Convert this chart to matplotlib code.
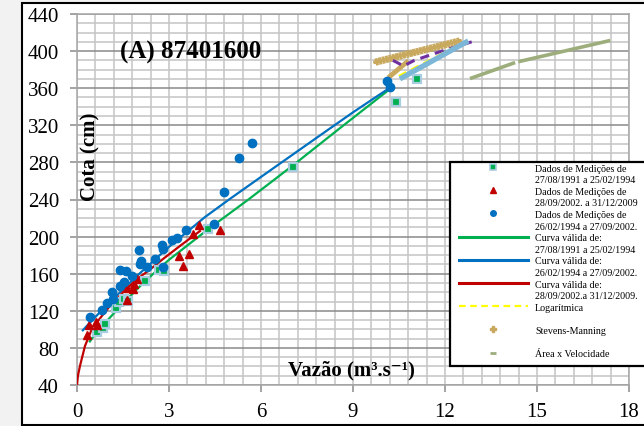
import matplotlib
matplotlib.use("Agg")
import matplotlib.pyplot as plt
import matplotlib.patheffects as pe
import numpy as np
from matplotlib.lines import Line2D
from matplotlib.patches import Rectangle
from matplotlib.ticker import MultipleLocator

plt.rcParams["font.family"] = ["Liberation Serif", "DejaVu Serif"]

# measured points (Q in m3/s, h in cm)
q_1991 = [0.64, 0.86, 0.92, 1.27, 1.37, 1.53, 1.67, 2.22, 2.68, 2.85, 4.28, 7.04, 10.4, 11.1]
h_1991 = [97, 101, 106, 123, 129, 133, 131, 152, 164, 163, 208, 275, 345, 370]

q_2002 = [0.34, 0.40, 0.62, 0.65, 1.64, 1.64, 1.83, 1.86, 1.97, 3.33, 3.47, 3.65, 3.79, 3.98, 4.66]
h_2002 = [94, 105, 108, 105, 132, 145, 144, 149, 154, 179, 168, 181, 203, 212, 207]

q_1994 = [0.44, 0.80, 0.97, 1.15, 1.18, 1.40, 1.40, 1.53, 1.61, 1.78, 2.03, 2.05, 2.09, 2.27,
          2.54, 2.78, 2.82, 2.82, 3.09, 3.25, 3.57, 4.48, 4.79, 5.28, 5.70, 10.1, 10.2]
h_1994 = [113, 121, 128, 140, 133, 164, 147, 151, 163, 157, 186, 170, 174, 167,
          176, 191, 187, 167, 196, 199, 207, 214, 248, 285, 301, 368, 361]

# rating curves
curve_1991_q = [0.42, 0.65, 1.0, 1.5, 2.22, 3.0, 4.28, 5.59, 7.05, 8.5, 10.2]
curve_1991_h = [87, 98, 110, 128, 152, 175, 208, 240, 277, 315, 359]

curve_1994_q = [0.19, 0.5, 1.0, 1.5, 2.0, 3.0, 4.17, 5.0, 6.5, 7.92, 9.0, 10.18]
curve_1994_h = [99, 110, 127, 143, 159, 189, 221, 241, 276, 309, 334, 360]

curve_2002_q = [0.0, 0.03, 0.1, 0.26, 0.48, 0.8, 1.08, 1.5, 1.95, 2.4, 2.81, 3.4, 4.01]
curve_2002_h = [40, 50, 61, 82, 100, 114, 125.5, 140, 154, 165, 176, 191, 206]

# extrapolation methods
ext_q = [10.53, 12.76]
ext_h = [370, 411]
log_q = [10.5, 11.5, 12.6]
log_h = [373, 390, 409]
purple_q = [10.3, 10.65, 11.0, 11.9, 12.87]
purple_h = [390, 384, 390, 400, 410]
stevens_q = [9.72, 12.49]
stevens_h = [388, 411]
stevens2_q = [10.21, 10.75]
stevens2_h = [373, 388]
area_q = [12.87, 14.23, np.nan, 14.45, 17.33]
area_h = [371, 387, np.nan, 389, 411]

legend_labels = ["Dados de Medições de", "27/08/1991 a 25/02/1994",
                 "Dados de Medições de", "28/09/2002. a 31/12/2009",
                 "Dados de Medições de", "26/02/1994 a 27/09/2002.",
                 "Curva válida de:", "27/08/1991 a 25/02/1994",
                 "Curva válida de:", "26/02/1994 a 27/09/2002.",
                 "Curva válida de:", "28/09/2002.a 31/12/2009.",
                 "Logarítmica", " ",
                 "Stevens-Manning", " ",
                 "Área x Velocidade", " "]

GREEN = "#00b050"
BLUE = "#0070c0"
RED = "#c00000"
LIGHTBLUE = "#7db7d8"
TAN = "#c8a95e"
SAGE = "#9dae7c"
PURPLE = "#7030a0"

fig = plt.figure(figsize=(6.44, 4.27), dpi=100, facecolor="#f2f2f2")
fig.add_artist(Rectangle((22 / 644, 1 / 427), 1.0, 422 / 427, transform=fig.transFigure,
                         facecolor="white", edgecolor="black", lw=1.5, zorder=-1))
ax = fig.add_axes([77 / 644, 1 - 386 / 427, 552 / 644, 371 / 427])

ax.set_xlim(0, 18)
ax.set_ylim(40, 440)
ax.xaxis.set_major_locator(MultipleLocator(3))
ax.xaxis.set_minor_locator(MultipleLocator(0.6))
ax.yaxis.set_major_locator(MultipleLocator(40))
ax.yaxis.set_minor_locator(MultipleLocator(10))
ax.set_axisbelow(True)
ax.grid(which="minor", color="#c4c4c4", lw=1.1)
ax.xaxis.grid(which="major", color="#c4c4c4", lw=1.1)
ax.yaxis.grid(which="major", color="#8a8a8a", lw=1.1)
for s in ax.spines.values():
    s.set_color("#a6a6a6")
    s.set_linewidth(1.1)
ax.tick_params(which="major", direction="out", length=5, width=1.1, color="#8a8a8a",
               labelsize=15)
ax.tick_params(axis="y", pad=8)
ax.tick_params(axis="x", pad=7)
ax.tick_params(which="minor", length=0)

# curves
ax.plot(curve_1991_q, curve_1991_h, color=GREEN, lw=1.6, zorder=3)
ax.plot(curve_1994_q, curve_1994_h, color=BLUE, lw=1.6, zorder=3)
ax.plot(curve_2002_q, curve_2002_h, color=RED, lw=1.6, zorder=3)

# extrapolations
ticked = [pe.withTickedStroke(angle=90, spacing=2.5, length=0.6),
          pe.withTickedStroke(angle=-90, spacing=2.5, length=0.6), pe.Normal()]
ax.plot(stevens_q, stevens_h, color=TAN, lw=2.2, path_effects=ticked, zorder=3)
ax.plot(stevens2_q, stevens2_h, color=TAN, lw=3.5, zorder=3)
ax.plot(purple_q, purple_h, color=PURPLE, lw=2.2, ls=(0, (3, 2)), zorder=3)
ax.plot(log_q, log_h, color="#ffff00", lw=2.0, ls=(0, (3, 2)), zorder=3)
ax.plot(ext_q, ext_h, color=LIGHTBLUE, lw=3.8, solid_capstyle="butt", zorder=4)
ax.plot(area_q, area_h, color=SAGE, lw=2.6, zorder=3)

# measurements
ax.plot(q_1991, h_1991, ls="none", marker="s", ms=5.5, mfc=GREEN, mec="#a9cde0", mew=1.6, zorder=5)
ax.plot(q_2002, h_2002, ls="none", marker="^", ms=5.5, color=RED, zorder=5)
ax.plot(q_1994, h_1994, ls="none", marker="o", ms=6, color=BLUE, zorder=5)

ax.text(0.078, 0.90, "(A) 87401600", transform=ax.transAxes, fontsize=18,
        fontweight="bold", ha="left", va="center")
ax.text(0.025, 0.617, "Cota (cm)", transform=ax.transAxes, fontsize=15,
        fontweight="bold", rotation=90, ha="center", va="center")
ax.text(0.498, 0.043, "Vazão (m³.s⁻¹)", transform=ax.transAxes, fontsize=15,
        fontweight="bold", ha="center", va="center")

# legend
blank = Line2D([], [], ls="none")
handles = [
    Line2D([], [], ls="none", marker="s", ms=4, mfc=GREEN, mec="#a9cde0", mew=1.2), blank,
    Line2D([], [], ls="none", marker="^", ms=4, color=RED), blank,
    Line2D([], [], ls="none", marker="o", ms=4, color=BLUE), blank,
    Line2D([], [], color=GREEN, lw=2.2), blank,
    Line2D([], [], color=BLUE, lw=2.2), blank,
    Line2D([], [], color=RED, lw=2.2), blank,
    Line2D([], [], color="#ffff00", lw=1.6, ls=(0, (3, 2))), blank,
    Line2D([], [], ls="none", marker="P", ms=4, color=TAN), blank,
    Line2D([], [], ls="none", marker="_", ms=5, mew=2, color=SAGE), blank,
]
ax.add_patch(Rectangle((0.6757, 0.0512), 0.38, 0.55, transform=ax.transAxes, clip_on=False,
                       facecolor="white", edgecolor="black", lw=1.6, zorder=6))
leg = ax.legend(handles, legend_labels, loc="upper left", bbox_to_anchor=(0.692, 0.597),
                frameon=False, fontsize=7.2, borderpad=0, borderaxespad=0,
                labelspacing=0.26, handlelength=6.9, handletextpad=0.7)
leg.set_zorder(7)

fig.savefig("out.png", dpi=100, facecolor=fig.get_facecolor())
